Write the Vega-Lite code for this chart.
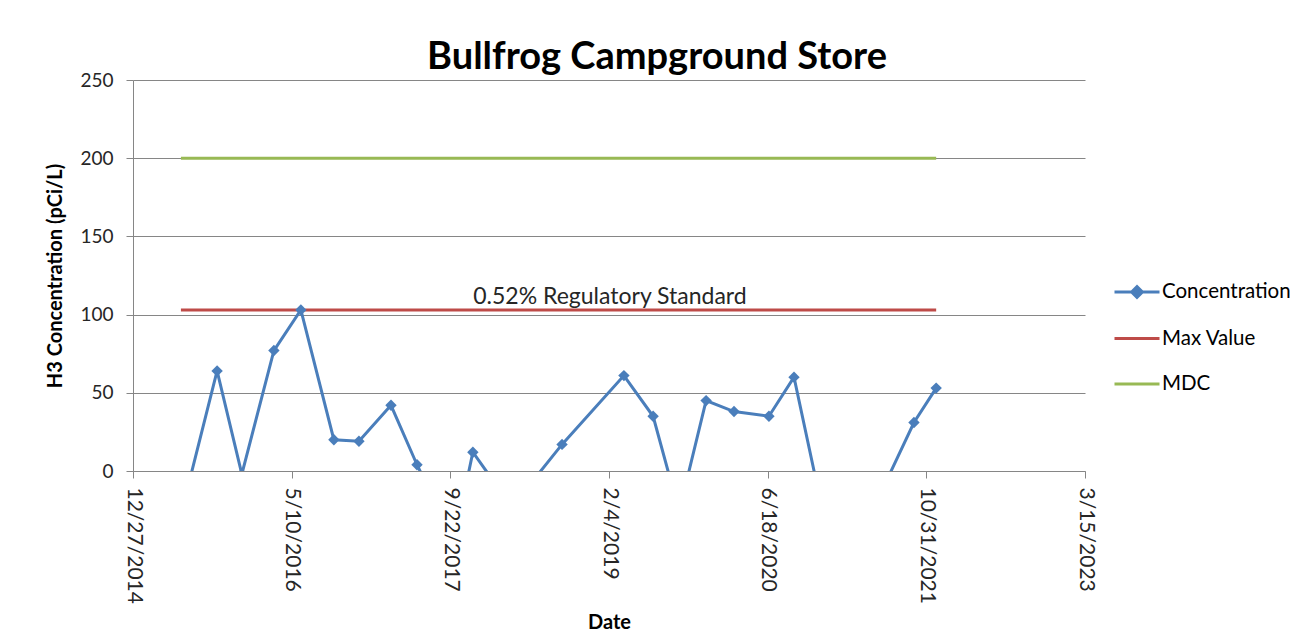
{
  "$schema": "https://vega.github.io/schema/vega-lite/v6.json",
  "width": 952,
  "height": 391,
  "autosize": {"type": "none"},
  "padding": {"left": 133, "top": 80, "right": 230, "bottom": 173},
  "background": "white",
  "config": {
    "view": {"stroke": null},
    "font": "Lato",
    "axis": {
      "domainColor": "#868686",
      "tickColor": "#868686",
      "gridColor": "#868686",
      "labelColor": "#262626",
      "titleColor": "#000000",
      "tickSize": 7
    }
  },
  "title": {
    "text": "Bullfrog Campground Store",
    "font": "Lato",
    "fontSize": 38,
    "fontWeight": "bold",
    "color": "#000000",
    "anchor": "middle",
    "frame": "group",
    "dx": 48,
    "dy": 40,
    "baseline": "alphabetic",
    "offset": 4
  },
  "datasets": {
    "series": [
      {"series": "Concentration", "date": "2015-05-27", "value": -28},
      {"series": "Concentration", "date": "2015-09-18", "value": 64},
      {"series": "Concentration", "date": "2015-12-05", "value": -2},
      {"series": "Concentration", "date": "2016-03-15", "value": 77},
      {"series": "Concentration", "date": "2016-06-08", "value": 103},
      {"series": "Concentration", "date": "2016-09-20", "value": 20},
      {"series": "Concentration", "date": "2016-12-08", "value": 19},
      {"series": "Concentration", "date": "2017-03-19", "value": 42},
      {"series": "Concentration", "date": "2017-06-09", "value": 4},
      {"series": "Concentration", "date": "2017-10-04", "value": -45},
      {"series": "Concentration", "date": "2017-12-02", "value": 12},
      {"series": "Concentration", "date": "2018-04-04", "value": -23},
      {"series": "Concentration", "date": "2018-09-09", "value": 17},
      {"series": "Concentration", "date": "2019-03-23", "value": 61},
      {"series": "Concentration", "date": "2019-06-23", "value": 35},
      {"series": "Concentration", "date": "2019-09-13", "value": -26},
      {"series": "Concentration", "date": "2019-12-07", "value": 45},
      {"series": "Concentration", "date": "2020-03-04", "value": 38},
      {"series": "Concentration", "date": "2020-06-22", "value": 35},
      {"series": "Concentration", "date": "2020-09-09", "value": 60},
      {"series": "Concentration", "date": "2021-01-26", "value": -72},
      {"series": "Concentration", "date": "2021-09-22", "value": 31},
      {"series": "Concentration", "date": "2021-12-01", "value": 53},
      {"series": "Max Value", "date": "2015-05-27", "value": 103},
      {"series": "Max Value", "date": "2021-12-01", "value": 103},
      {"series": "MDC", "date": "2015-05-27", "value": 200},
      {"series": "MDC", "date": "2021-12-01", "value": 200}
    ],
    "annot": [
      {"date": "2019-02-07", "value": 103, "label": "0.52% Regulatory Standard"}
    ]
  },
  "encoding": {
    "x": {
      "field": "date",
      "type": "temporal",
      "scale": {"type": "utc", "domain": [1419638400000, 1678838400000]},
      "axis": {
        "title": "Date",
        "titleFont": "Lato",
        "titleFontSize": 20,
        "titleFontWeight": "bold",
        "titlePadding": 9,
        "values": [1419638400000, 1462838400000, 1506038400000, 1549238400000, 1592438400000, 1635638400000, 1678838400000],
        "labelExpr": "utcFormat(datum.value, '%-m/%-d/%Y')",
        "labelAngle": 90,
        "labelFont": "Lato",
        "labelFontSize": 21,
        "labelPadding": 9,
        "grid": false
      }
    },
    "y": {
      "field": "value",
      "type": "quantitative",
      "scale": {"domain": [0, 250], "nice": false, "zero": false},
      "axis": {
        "title": "H3 Concentration (pCi/L)",
        "titleFont": "Lato",
        "titleFontSize": 20,
        "titleFontWeight": "bold",
        "titlePadding": 14,
        "values": [0, 50, 100, 150, 200, 250],
        "labelFontSize": 19,
        "labelPadding": 13,
        "grid": true
      }
    }
  },
  "layer": [
    {
      "data": {"name": "series"},
      "mark": {"type": "line", "clip": true},
      "encoding": {
        "color": {
          "field": "series",
          "type": "nominal",
          "scale": {"domain": ["Concentration", "Max Value", "MDC"], "range": ["#4a7ebb", "#be4b48", "#98b954"]},
          "legend": {
            "orient": "none",
            "legendX": 980,
            "legendY": 188,
            "title": null,
            "symbolType": "stroke",
            "symbolSize": 2025,
            "symbolStrokeWidth": 3,
            "labelFont": "Lato",
            "labelFontSize": 20.5,
            "labelColor": "#000000",
            "labelOffset": 1,
            "rowPadding": 10.5,
            "encode": {
              "symbols": {
                "update": {
                  "shape": {"signal": "datum.value === 'Concentration' ? 'M-1,0L1,0M-0.24,0L0,-0.24L0.24,0L0,0.24Z' : 'stroke'"},
                  "fill": {"signal": "datum.value === 'Concentration' ? '#4a7ebb' : 'transparent'"},
                  "strokeWidth": {"signal": "datum.value === 'MDC' ? 5 : 3"}
                }
              }
            }
          }
        },
        "strokeWidth": {
          "field": "series",
          "type": "nominal",
          "scale": {"domain": ["Concentration", "Max Value", "MDC"], "range": [3, 3, 5]},
          "legend": null
        }
      }
    },
    {
      "data": {"name": "series"},
      "transform": [{"filter": "datum.series === 'Concentration'"}],
      "mark": {"type": "point", "shape": "diamond", "filled": true, "size": 130, "opacity": 1, "color": "#4a7ebb", "clip": true}
    },
    {
      "data": {"name": "annot"},
      "mark": {"type": "text", "font": "Lato", "fontSize": 23, "color": "#262626", "baseline": "alphabetic", "dy": -6},
      "encoding": {"text": {"field": "label"}}
    }
  ]
}
